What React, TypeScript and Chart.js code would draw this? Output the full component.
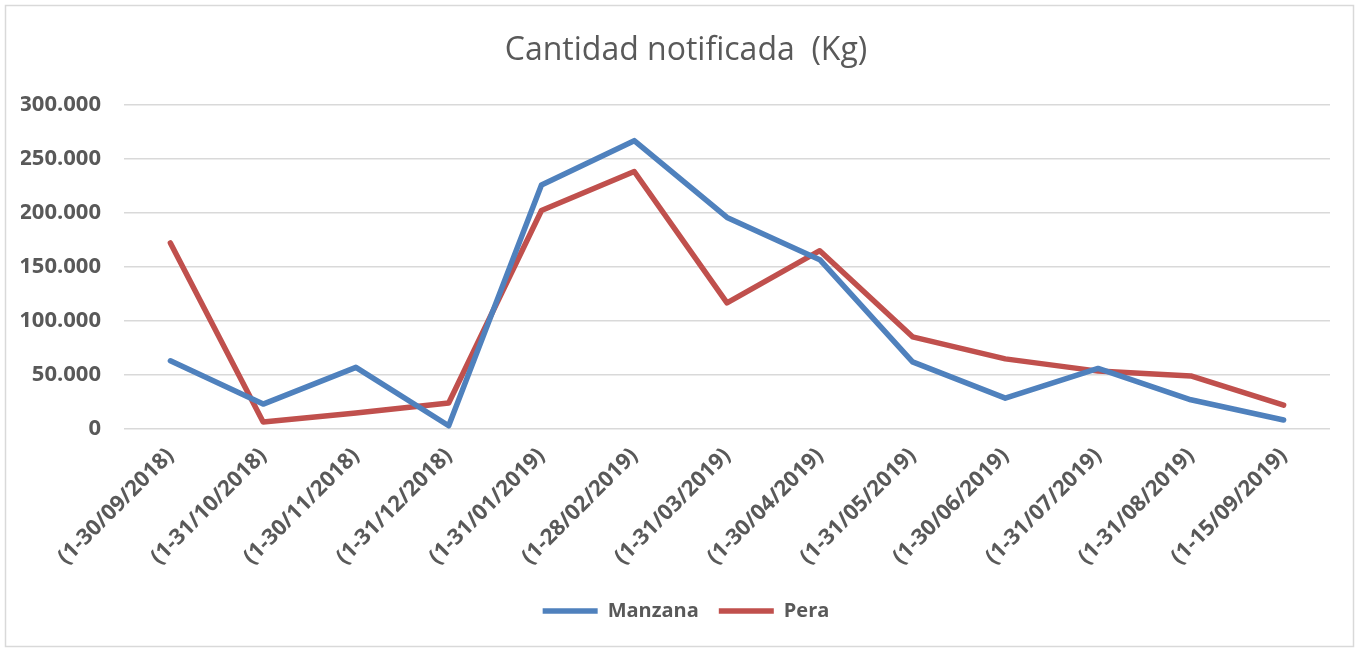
import React, { useEffect, useRef } from "react";
import { Chart, registerables } from "chart.js";

Chart.register(...registerables);

const categories = [
  "(1-30/09/2018)",
  "(1-31/10/2018)",
  "(1-30/11/2018)",
  "(1-31/12/2018)",
  "(1-31/01/2019)",
  "(1-28/02/2019)",
  "(1-31/03/2019)",
  "(1-30/04/2019)",
  "(1-31/05/2019)",
  "(1-30/06/2019)",
  "(1-31/07/2019)",
  "(1-31/08/2019)",
  "(1-15/09/2019)",
];

const manzana = [63000, 23000, 57000, 3000, 225500, 266500, 195500, 156500, 62000, 28500, 56000, 27000, 8300];
const pera = [172000, 6500, 14800, 24000, 202000, 238000, 116500, 164800, 85200, 64800, 53500, 49000, 22000];

const yTicks = [0, 50000, 100000, 150000, 200000, 250000, 300000];

const FONT = "'Open Sans', 'DejaVu Sans', sans-serif";
const TEXT = "#595959";

function fmt(v: number): string {
  return String(Math.round(v)).replace(/\B(?=(\d{3})+(?!\d))/g, ".");
}

const borderPlugin = {
  id: "outerBorder",
  beforeDraw(chart: any) {
    const ctx = chart.ctx;
    ctx.save();
    ctx.fillStyle = "#ffffff";
    ctx.fillRect(0, 0, chart.width, chart.height);
    ctx.strokeStyle = "#D9D9D9";
    ctx.lineWidth = 1.5;
    ctx.strokeRect(5.5, 5.5, chart.width - 11, chart.height - 9);
    ctx.restore();
  },
};

export default function App() {
  const ref = useRef<HTMLCanvasElement>(null);
  useEffect(() => {
    const canvas = ref.current;
    if (!canvas) return;
    const chart = new Chart(canvas, {
      type: "line",
      data: {
        labels: categories,
        datasets: [
          {
            label: "Manzana",
            data: manzana,
            borderColor: "#4F81BD",
            backgroundColor: "#4F81BD",
            borderWidth: 5.5,
            pointRadius: 0,
            borderCapStyle: "round",
            borderJoinStyle: "round",
            tension: 0,
            yAxisID: "y",
          },
          {
            label: "Pera",
            data: pera,
            borderColor: "#C0504D",
            backgroundColor: "#C0504D",
            borderWidth: 5.5,
            pointRadius: 0,
            borderCapStyle: "round",
            borderJoinStyle: "round",
            tension: 0,
            yAxisID: "y",
          },
        ],
      },
      options: {
        animation: false,
        responsive: false,
        maintainAspectRatio: false,
        layout: { padding: { left: 21, right: 8, top: 20, bottom: 19 } },
        plugins: {
          title: {
            display: true,
            text: "Cantidad notificada  (Kg)",
            color: TEXT,
            font: { family: FONT, size: 32, weight: "normal" },
            padding: { top: 12, bottom: 34 },
          },
          legend: {
            position: "bottom",
            labels: {
              color: TEXT,
              font: { family: FONT, size: 20, weight: "bold" },
              usePointStyle: true,
              pointStyle: "line",
              pointStyleWidth: 55,
              boxWidth: 55,
              padding: 20,
            },
          },
          tooltip: { enabled: false },
        },
        scales: {
          x: {
            offset: true,
            grid: { display: false, drawTicks: false },
            border: { display: false },
            ticks: {
              color: TEXT,
              font: { family: FONT, size: 22, weight: "bold" },
              minRotation: 45,
              maxRotation: 45,
              autoSkip: false,
              padding: 14,
            },
            afterFit(scale: any) {
              scale.height = 152;
            },
          },
          y: {
            position: "left",
            min: 0,
            max: 300000,
            afterBuildTicks(scale: any) {
              scale.ticks = yTicks.map((v) => ({ value: v }));
            },
            grid: { color: "#D9D9D9", lineWidth: 1.5, drawTicks: false },
            border: { display: false },
            ticks: {
              color: TEXT,
              font: { family: FONT, size: 22, weight: "bold" },
              padding: 23,
              callback: (v: any) => fmt(Number(v)),
            },
            afterFit(scale: any) {
              scale.width = 103;
            },
          },
          yRight: {
            position: "right",
            display: true,
            grid: { display: false, drawTicks: false },
            border: { display: false },
            ticks: { display: false },
            afterFit(scale: any) {
              scale.width = 21;
            },
          },
        },
      },
      plugins: [borderPlugin],
    });
    return () => chart.destroy();
  }, []);
  return (
    <div style={{ position: "fixed", left: 0, top: 0, width: 1359, height: 650, background: "#fff" }}>
      <canvas ref={ref} width={1359} height={650} style={{ display: "block" }} />
    </div>
  );
}
